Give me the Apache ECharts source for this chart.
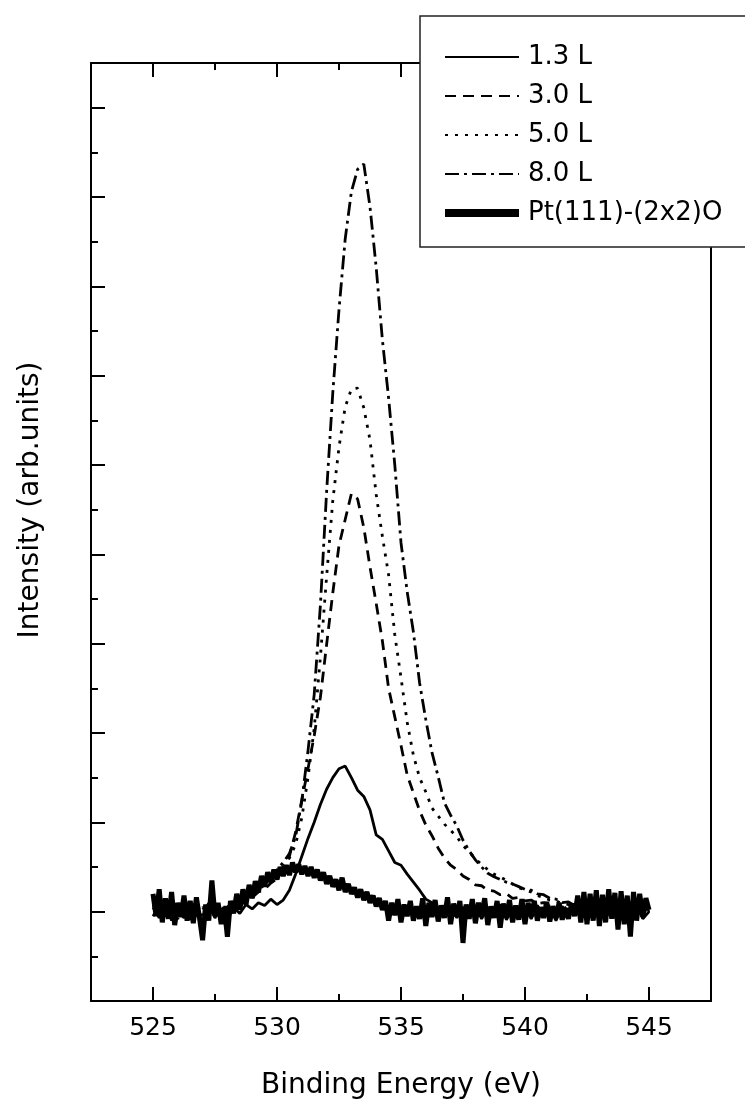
<!DOCTYPE html>
<html>
<head>
<meta charset="utf-8">
<script src="https://cdn.jsdelivr.net/npm/echarts@6/dist/echarts.min.js"></script>
<style>
html,body{margin:0;padding:0;background:#fff;}
#chart{width:745px;height:1108px;}
</style>
</head>
<body>
<div id="chart"></div>
<script>
// Binding energy grid (eV) for the dosed spectra
const energy = [
525.00,525.25,525.50,525.75,526.00,526.25,526.50,526.75,527.00,527.25,
527.50,527.75,528.00,528.25,528.50,528.75,529.00,529.25,529.50,529.75,
530.00,530.25,530.50,530.75,531.00,531.25,531.50,531.75,532.00,532.25,
532.50,532.75,533.00,533.25,533.50,533.75,534.00,534.25,534.50,534.75,
535.00,535.25,535.50,535.75,536.00,536.25,536.50,536.75,537.00,537.25,
537.50,537.75,538.00,538.25,538.50,538.75,539.00,539.25,539.50,539.75,
540.00,540.25,540.50,540.75,541.00,541.25,541.50,541.75,542.00,542.25,
542.50,542.75,543.00,543.25,543.50,543.75,544.00,544.25,544.50,544.75,
545.00
];

// Finer energy grid (eV) for the Pt(111)-(2x2)O reference spectrum
const energyFine = [
525.000,525.125,525.250,525.375,525.500,525.625,525.750,525.875,
526.000,526.125,526.250,526.375,526.500,526.625,526.750,526.875,
527.000,527.125,527.250,527.375,527.500,527.625,527.750,527.875,
528.000,528.125,528.250,528.375,528.500,528.625,528.750,528.875,
529.000,529.125,529.250,529.375,529.500,529.625,529.750,529.875,
530.000,530.125,530.250,530.375,530.500,530.625,530.750,530.875,
531.000,531.125,531.250,531.375,531.500,531.625,531.750,531.875,
532.000,532.125,532.250,532.375,532.500,532.625,532.750,532.875,
533.000,533.125,533.250,533.375,533.500,533.625,533.750,533.875,
534.000,534.125,534.250,534.375,534.500,534.625,534.750,534.875,
535.000,535.125,535.250,535.375,535.500,535.625,535.750,535.875,
536.000,536.125,536.250,536.375,536.500,536.625,536.750,536.875,
537.000,537.125,537.250,537.375,537.500,537.625,537.750,537.875,
538.000,538.125,538.250,538.375,538.500,538.625,538.750,538.875,
539.000,539.125,539.250,539.375,539.500,539.625,539.750,539.875,
540.000,540.125,540.250,540.375,540.500,540.625,540.750,540.875,
541.000,541.125,541.250,541.375,541.500,541.625,541.750,541.875,
542.000,542.125,542.250,542.375,542.500,542.625,542.750,542.875,
543.000,543.125,543.250,543.375,543.500,543.625,543.750,543.875,
544.000,544.125,544.250,544.375,544.500,544.625,544.750,544.875,
545.000
];

const seriesNames = ['1.3 L', '3.0 L', '5.0 L', '8.0 L', 'Pt(111)-(2x2)O'];

const dose13 = [
1.14,0.95,1.08,0.90,1.04,0.93,1.09,0.97,0.88,1.06,
0.94,1.03,0.91,1.05,0.98,1.08,1.03,1.10,1.07,1.14,
1.08,1.13,1.24,1.42,1.62,1.82,2.00,2.20,2.37,2.50,
2.60,2.63,2.50,2.36,2.29,2.14,1.86,1.81,1.68,1.55,
1.52,1.42,1.33,1.24,1.14,1.10,1.04,0.98,1.06,0.93,
1.05,0.96,1.07,0.92,1.04,0.95,1.08,0.91,1.03,0.94,
1.06,0.92,1.07,0.96,1.04,0.90,1.06,0.95,1.08,0.93,
1.03,0.91,1.07,0.96,1.09,0.90,1.04,0.94,1.08,0.92,
1.00
];

const dose30 = [
1.05,1.14,0.93,1.05,0.95,1.08,0.91,1.04,0.96,1.10,
0.93,1.02,1.03,1.08,1.09,1.14,1.16,1.22,1.25,1.32,
1.37,1.50,1.62,1.89,2.25,2.60,2.97,3.40,3.99,4.57,
5.10,5.39,5.68,5.62,5.30,4.86,4.45,4.03,3.50,3.18,
2.86,2.53,2.33,2.13,1.97,1.85,1.71,1.60,1.52,1.47,
1.40,1.36,1.30,1.29,1.24,1.23,1.19,1.20,1.15,1.16,
1.12,1.13,1.09,1.10,1.06,1.08,1.03,1.06,1.01,0.95,
1.06,0.97,1.04,0.93,1.05,0.98,0.94,1.06,0.96,1.08,
0.99
];

const dose50 = [
0.95,1.06,1.11,0.94,1.07,0.97,1.09,0.93,1.05,0.96,
1.08,0.99,1.05,1.08,1.12,1.15,1.20,1.25,1.30,1.36,
1.42,1.50,1.60,1.75,2.05,2.50,3.05,3.85,4.75,5.60,
6.20,6.65,6.85,6.86,6.64,6.28,5.67,5.20,4.77,4.10,
3.62,3.12,2.75,2.50,2.34,2.16,2.07,1.98,1.91,1.84,
1.74,1.67,1.59,1.53,1.47,1.42,1.39,1.35,1.31,1.27,
1.24,1.22,1.18,1.16,1.13,1.12,1.09,1.08,1.05,1.00,
0.94,1.06,0.96,1.07,0.92,1.04,1.09,0.95,1.05,0.93,
1.02
];

const dose80 = [
1.05,0.93,1.09,0.98,0.92,1.06,0.96,1.11,0.94,1.04,
0.97,1.05,1.05,1.10,1.12,1.18,1.22,1.28,1.32,1.40,
1.47,1.55,1.65,1.84,2.24,2.80,3.43,4.43,5.70,6.81,
7.74,8.53,9.06,9.31,9.37,8.89,8.21,7.40,6.75,6.00,
5.13,4.58,4.13,3.56,3.15,2.78,2.51,2.22,2.08,1.96,
1.80,1.68,1.58,1.50,1.43,1.39,1.36,1.33,1.31,1.28,
1.25,1.24,1.20,1.19,1.15,1.14,1.10,1.11,1.07,1.02,
0.96,1.07,0.95,1.04,1.08,0.94,1.03,1.06,0.95,1.05,
0.98
];

const ptClean = [
1.20,0.95,1.25,0.88,1.15,0.92,1.22,0.85,
1.10,0.94,1.18,0.90,1.12,0.87,1.16,0.93,
0.68,1.08,0.90,1.35,0.95,1.10,0.86,1.05,
0.72,1.12,0.98,1.20,1.02,1.25,1.08,1.30,
1.15,1.34,1.22,1.40,1.28,1.44,1.33,1.47,
1.36,1.50,1.40,1.52,1.41,1.55,1.44,1.53,
1.42,1.51,1.40,1.50,1.38,1.47,1.35,1.44,
1.31,1.40,1.28,1.36,1.24,1.38,1.22,1.31,
1.20,1.27,1.16,1.25,1.13,1.22,1.10,1.18,
1.06,1.15,1.02,1.12,0.90,1.10,0.96,1.14,
0.88,1.08,0.95,1.12,0.90,1.06,0.92,1.15,
0.84,1.10,0.94,1.13,0.89,1.07,0.93,1.16,
0.86,1.09,0.95,1.12,0.65,1.08,0.92,1.14,
0.87,1.10,0.96,1.15,0.85,1.06,0.93,1.12,
0.82,1.09,0.94,1.13,0.88,1.07,0.91,1.14,
0.86,1.10,0.95,1.12,0.90,1.05,0.93,1.11,
0.89,1.06,0.94,1.10,0.91,1.04,0.92,1.09,
0.95,1.18,0.88,1.22,0.86,1.20,0.90,1.24,
0.84,1.19,0.88,1.25,0.92,1.21,0.80,1.23,
0.86,1.18,0.72,1.22,0.90,1.20,0.94,1.15,
1.02
];

const xMajorTicks = [525, 530, 535, 540, 545];
const xMinorTicks = [527.5, 532.5, 537.5, 542.5];

const FONT = 'DejaVu Sans';

function pairs(xs, ys) { return xs.map((e, i) => [e, ys[i]]); }

const styles = [
  { width: 2.8, type: 'solid' },
  { width: 2.8, type: [11, 7] },
  { width: 2.8, type: [3, 7] },
  { width: 2.8, type: [14, 5, 3, 5] },
  { width: 5,   type: 'solid' }
];
const xsets = [energy, energy, energy, energy, energyFine];
const values = [dose13, dose30, dose50, dose80, ptClean];

const chart = echarts.init(document.getElementById('chart'), null, { renderer: 'canvas' });

const baseX = {
  type: 'value', min: 522.5, max: 547.5, gridIndex: 0,
  splitLine: { show: false }
};

chart.setOption({
  animation: false,
  backgroundColor: '#fff',
  grid: { left: 91, top: 63, right: 34, bottom: 107, containLabel: false },
  legend: {
    orient: 'vertical',
    left: 420, top: 16,
    padding: [28, 30, 21, 21],
    itemWidth: 74, itemHeight: 14, itemGap: 13,
    borderColor: '#222', borderWidth: 1.5,
    backgroundColor: '#fff',
    selectedMode: false,
    itemStyle: { opacity: 0, color: 'rgba(0,0,0,0)', borderWidth: 0 },
    textStyle: { fontFamily: FONT, fontSize: 26, color: '#000', lineHeight: 26, padding: [0, 0, 0, 4] },
    data: seriesNames.map((n, i) => i === 4
      ? { name: n, lineStyle: { width: 8 } }
      : { name: n, lineStyle: { width: 2 } })
  },
  xAxis: [
    Object.assign({}, baseX, {
      position: 'bottom',
      axisLine: { show: true, onZero: false, lineStyle: { color: '#000', width: 2 } },
      axisTick: { show: true, inside: true, length: 14, lineStyle: { color: '#000', width: 2 }, customValues: xMajorTicks },
      axisLabel: { show: true, customValues: xMajorTicks, fontFamily: FONT, fontSize: 25, color: '#000', margin: 15 },
      name: 'Binding Energy (eV)', nameLocation: 'middle', nameGap: 71,
      nameTextStyle: { fontFamily: FONT, fontSize: 28, color: '#000' }
    }),
    Object.assign({}, baseX, {
      position: 'bottom',
      axisLine: { show: false, onZero: false },
      axisTick: { show: true, inside: true, length: 7, lineStyle: { color: '#000', width: 2 }, customValues: xMinorTicks },
      axisLabel: { show: false }
    }),
    Object.assign({}, baseX, {
      position: 'top',
      axisLine: { show: true, onZero: false, lineStyle: { color: '#000', width: 2 } },
      axisTick: { show: true, inside: true, length: 14, lineStyle: { color: '#000', width: 2 }, customValues: xMajorTicks },
      axisLabel: { show: false }
    }),
    Object.assign({}, baseX, {
      position: 'top',
      axisLine: { show: false, onZero: false },
      axisTick: { show: true, inside: true, length: 7, lineStyle: { color: '#000', width: 2 }, customValues: xMinorTicks },
      axisLabel: { show: false }
    })
  ],
  yAxis: [
    {
      type: 'value', min: 0, max: 10.5, interval: 1, position: 'left',
      axisLine: { show: true, onZero: false, lineStyle: { color: '#000', width: 2 } },
      axisTick: { show: true, inside: true, length: 14, lineStyle: { color: '#000', width: 2 } },
      minorTick: { show: true, splitNumber: 2, length: 7, lineStyle: { color: '#000', width: 2 } },
      axisLabel: { show: false },
      splitLine: { show: false },
      minorSplitLine: { show: false },
      name: 'Intensity (arb.units)', nameLocation: 'middle', nameGap: 46,
      nameTextStyle: { fontFamily: FONT, fontSize: 28, color: '#000', padding: [0, 0, 0, 64] }
    },
    {
      type: 'value', min: 0, max: 10.5, position: 'right',
      axisLine: { show: true, onZero: false, lineStyle: { color: '#000', width: 2 } },
      axisTick: { show: false },
      axisLabel: { show: false },
      splitLine: { show: false }
    }
  ],
  series: seriesNames.map((n, i) => ({
    name: n,
    type: 'line',
    xAxisIndex: 0, yAxisIndex: 0,
    data: pairs(xsets[i], values[i]),
    symbol: 'none', showSymbol: false,
    lineStyle: { color: '#000', width: styles[i].width, type: styles[i].type },
    itemStyle: { color: '#000' },
    z: 2 + i
  }))
});
</script>
</body>
</html>
